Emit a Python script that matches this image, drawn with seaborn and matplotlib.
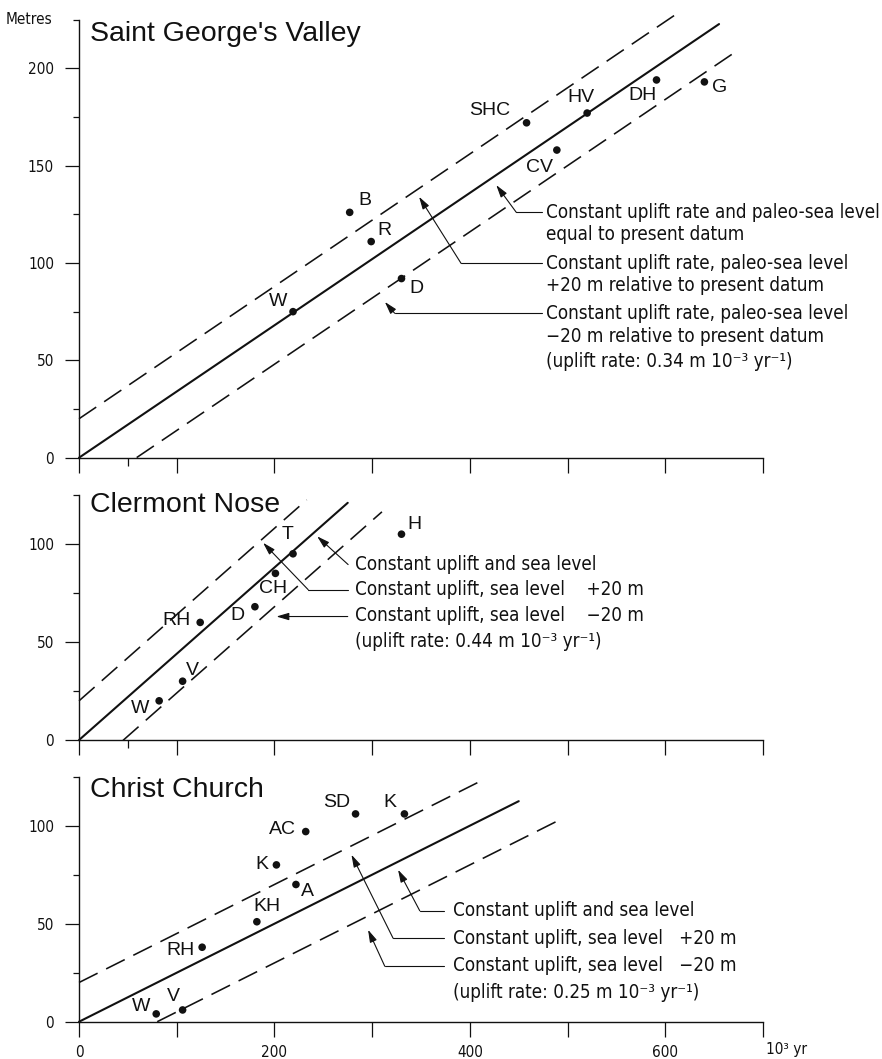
import matplotlib
matplotlib.use("Agg")
import matplotlib.pyplot as plt
import seaborn as sns
from matplotlib import font_manager
from matplotlib.ticker import MultipleLocator, FixedLocator

# ---- data (age in 10^3 yr, elevation in metres) ----
sgv_sites = ["W", "B", "R", "D", "SHC", "CV", "HV", "DH", "G"]
sgv_age = [219, 277, 299, 330, 458, 489, 520, 591, 640]
sgv_elev = [75, 126, 111, 92, 172, 158, 177, 194, 193]

cn_sites = ["W", "V", "RH", "D", "CH", "T", "H"]
cn_age = [82, 106, 124, 180, 201, 219, 330]
cn_elev = [20, 30, 60, 68, 85, 95, 105]

cc_sites = ["W", "V", "RH", "KH", "K", "A", "AC", "SD", "K"]
cc_age = [79, 106, 126, 182, 202, 222, 232, 283, 333]
cc_elev = [4, 6, 38, 51, 80, 70, 97, 106, 106]

uplift_rates = [0.34, 0.44, 0.25]
sea_offsets = [0, 20, -20]          # solid, upper dashed, lower dashed
# x extent of each model line (start, end) per panel
sgv_spans = [(0, 655), (0, 613), (59, 671)]
cn_spans = [(0, 275), (0, 233), (45, 310)]
cc_spans = [(0, 450), (0, 408), (80, 492)]

titles = ["Saint George's Valley", "Clermont Nose", "Christ Church"]

# ---- fonts ----
sns.set_style("ticks")
fm_list = font_manager.fontManager.ttflist
names = {f.name for f in fm_list}
WIDE = "Liberation Sans" if "Liberation Sans" in names else "DejaVu Sans"
cond_names = {f.name for f in fm_list
              if "cond" in str(f.stretch).lower() or "narrow" in f.name.lower()
              or "condensed" in f.fname.lower()}
STRETCH = "normal"
if "Liberation Sans Narrow" in names:
    NARROW, NOTE_SIZE, TICK_SIZE = "Liberation Sans Narrow", 15.5, 11.5
elif "DejaVu Sans" in cond_names:
    NARROW, NOTE_SIZE, TICK_SIZE, STRETCH = "DejaVu Sans", 13.5, 11, "condensed"
elif "Roboto" in cond_names:
    NARROW, NOTE_SIZE, TICK_SIZE, STRETCH = "Roboto", 14.5, 11, "condensed"
else:
    NARROW, NOTE_SIZE, TICK_SIZE = WIDE, 13, 10.5

plt.rcParams["font.family"] = [NARROW, "DejaVu Sans"]
plt.rcParams["font.stretch"] = STRETCH
INK = "#111111"
narrow = [NARROW, "DejaVu Sans"]
wide = [WIDE, "DejaVu Sans"]

fig = plt.figure(figsize=(8.82, 10.59), dpi=100)
left, width = 0.0896, 0.7755
ax_top = fig.add_axes([left, 0.5678, width, 0.4137])
ax_mid = fig.add_axes([left, 0.3012, width, 0.2314])
ax_bot = fig.add_axes([left, 0.0352, width, 0.2314])

panels = [
    (ax_top, sgv_sites, sgv_age, sgv_elev, sgv_spans, 225),
    (ax_mid, cn_sites, cn_age, cn_elev, cn_spans, 125),
    (ax_bot, cc_sites, cc_age, cc_elev, cc_spans, 125),
]

# label offsets (pixels) from each dot
label_offsets = [
    [(-15, 10), (15, 12), (13, 11), (15, -10), (-37, 12), (-17, -17), (-6, 16), (-14, -16), (15, -6)],
    [(-19, -8), (10, 11), (-24, 2), (-17, -9), (-2, -15), (-5, 19), (13, 10)],
    [(-15, 7), (-9, 13), (-22, -3), (10, 15), (-15, 0), (12, -7), (-23, 2), (-19, 11), (-15, 11)],
]
title_y = [0.952, 0.932, 0.918]

for i, (ax, sites, age, elev, spans, ytop) in enumerate(panels):
    rate = uplift_rates[i]
    for off, (x0, x1), ls, lw in zip(sea_offsets, spans,
                                      ["-", (0, (13, 6)), (0, (13, 6))],
                                      [1.5, 1.15, 1.15]):
        xs = [x0, x1]
        ys = [rate * x + off for x in xs]
        sns.lineplot(x=xs, y=ys, ax=ax, color=INK, lw=lw, linestyle=ls,
                     clip_on=False, zorder=3)
    sns.scatterplot(x=age, y=elev, ax=ax, color=INK, s=30, edgecolor="none",
                    zorder=5, clip_on=False)
    for s, a, e, (dx, dy) in zip(sites, age, elev, label_offsets[i]):
        ax.annotate(s, (a, e), xytext=(dx, dy), textcoords="offset pixels",
                    ha="center", va="center", fontsize=14, family=wide,
                    fontstretch="normal", color=INK)

    ax.set_xlim(0, 700)
    ax.set_ylim(0, ytop)
    sns.despine(ax=ax)
    for sp in ("left", "bottom"):
        ax.spines[sp].set_linewidth(1.0)
        ax.spines[sp].set_color(INK)
    ax.xaxis.set_major_locator(MultipleLocator(100))
    ax.yaxis.set_major_locator(MultipleLocator(50))
    ax.yaxis.set_minor_locator(MultipleLocator(25))
    if i < 2:
        ax.xaxis.set_minor_locator(FixedLocator([50]))
    ax.tick_params(axis="y", which="major", length=10, width=0.9, pad=8,
                   labelsize=TICK_SIZE, colors=INK)
    ax.tick_params(axis="y", which="minor", length=4, width=0.9, colors=INK)
    ax.tick_params(axis="x", which="major", length=11, width=0.9, pad=6,
                   labelsize=TICK_SIZE, colors=INK)
    ax.tick_params(axis="x", which="minor", length=6, width=0.9, colors=INK)
    ax.set_xlabel("")
    ax.set_ylabel("")
    ax.patch.set_alpha(0)
    ax.text(0.016, title_y[i], titles[i], transform=ax.transAxes, ha="left",
            va="baseline", fontsize=20.5, family=wide, fontstretch="normal",
            color=INK)
    if i < 2:
        ax.set_xticklabels([])
    else:
        ax.set_xticks(range(0, 701, 100))
        ax.set_xticklabels(["0", "", "200", "", "400", "", "600", ""])

ax_top.annotate("Metres", xy=(0, 1), xycoords="axes fraction", xytext=(-27, 0),
                textcoords="offset pixels", ha="right", va="center",
                fontsize=TICK_SIZE, color=INK)
ax_bot.text(703, -14, "10³ yr", ha="left", va="center", fontsize=TICK_SIZE,
            color=INK)


def leader(ax, head, elbow, tail_x):
    ax.annotate("", xy=head, xytext=elbow,
                arrowprops=dict(arrowstyle="-|>,head_length=0.75,head_width=0.22",
                                color=INK, lw=0.8, mutation_scale=10,
                                shrinkA=0, shrinkB=0))
    if tail_x > elbow[0]:
        ax.plot([elbow[0], tail_x], [elbow[1], elbow[1]], color=INK, lw=0.8)


def note(ax, x, ys, lines):
    for y, t in zip(ys, lines):
        ax.text(x, y, t, ha="left", va="center", fontsize=NOTE_SIZE,
                family=narrow, color=INK)


# top panel notes
leader(ax_top, (427, 140), (447.5, 126), 474)
leader(ax_top, (348, 134), (391, 99.8), 474)
leader(ax_top, (313, 80), (323, 74.2), 474)
note(ax_top, 478, [125.7, 114.4, 99.8, 88.6, 74.2, 62.1, 49.3],
     ["Constant uplift rate and paleo-sea level", "equal to present datum",
      "Constant uplift rate, paleo-sea level", "+20 m relative to present datum",
      "Constant uplift rate, paleo-sea level", "\u221220 m relative to present datum",
      "(uplift rate: 0.34 m 10\u207b\u00b3 yr\u207b\u00b9)"])

# middle panel notes
leader(ax_mid, (243.7, 103.9), (275.4, 89.5), 275.4)
leader(ax_mid, (188.4, 100.6), (234.5, 76.7), 275)
leader(ax_mid, (202, 63), (275, 63), 275)
note(ax_mid, 282, [89.5, 76.7, 63.4, 50.3],
     ["Constant uplift and sea level", "Constant uplift, sea level    +20 m",
      "Constant uplift, sea level    \u221220 m",
      "(uplift rate: 0.44 m 10\u207b\u00b3 yr\u207b\u00b9)"])

# bottom panel notes
leader(ax_bot, (326.5, 77.5), (348.7, 56.6), 374)
leader(ax_bot, (278.8, 85.2), (321.4, 42.6), 374)
leader(ax_bot, (295.8, 46.9), (312.9, 28.3), 374)
note(ax_bot, 382.7, [56.6, 42.6, 28.5, 14.8],
     ["Constant uplift and sea level", "Constant uplift, sea level   +20 m",
      "Constant uplift, sea level   \u221220 m",
      "(uplift rate: 0.25 m 10\u207b\u00b3 yr\u207b\u00b9)"])

fig.savefig("out.png", dpi=100, facecolor="white")
